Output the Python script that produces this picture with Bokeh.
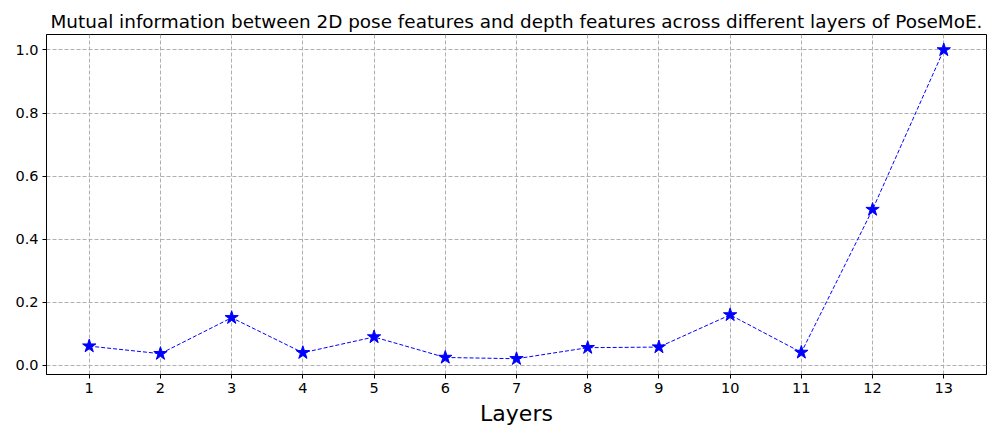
from bokeh.plotting import figure
from bokeh.models import FixedTicker, Range1d, PrintfTickFormatter
from bokeh.embed import file_html
from bokeh.resources import INLINE

layers = [1, 2, 3, 4, 5, 6, 7, 8, 9, 10, 11, 12, 13]
mutual_info = [0.061, 0.037, 0.151, 0.040, 0.090, 0.025, 0.021, 0.056, 0.058, 0.160, 0.041, 0.494, 1.0]
x_ticks = layers
y_ticks = [0.0, 0.2, 0.4, 0.6, 0.8, 1.0]
title_text = "Mutual information between 2D pose features and depth features across different layers of PoseMoE."
x_label = "Layers"

FONT = "DejaVu Sans"

p = figure(frame_width=940, frame_height=340, output_backend="svg", toolbar_location=None,
           x_range=Range1d(0.4, 13.6), y_range=Range1d(-0.029, 1.049),
           min_border_left=46, min_border_right=3, min_border_top=34, min_border_bottom=50)

p.title.text = title_text
p.title.text_font = FONT
p.title.text_font_size = "18.4px"
p.title.text_font_style = "normal"
p.title.text_color = "black"
p.title.align = "left"
p.title.standoff = 5
p.title.offset = 4

p.line(layers, mutual_info, line_color="blue", line_width=1, line_dash="4 2")
p.scatter(layers, mutual_info, marker="star", size=14, fill_color="blue", line_color="blue")

p.xaxis.ticker = FixedTicker(ticks=x_ticks)
p.yaxis.ticker = FixedTicker(ticks=y_ticks)
p.yaxis.formatter = PrintfTickFormatter(format="%.1f")
p.xaxis.axis_label = x_label
p.xaxis.axis_label_text_font = FONT
p.xaxis.axis_label_text_font_size = "22px"
p.xaxis.axis_label_text_font_style = "normal"
p.xaxis.axis_label_text_color = "black"
p.xaxis.axis_label_standoff = 5

for ax in (p.xaxis, p.yaxis):
    ax.major_label_text_font = FONT
    ax.major_label_text_font_size = "14.5px"
    ax.major_label_text_color = "black"
    ax.major_tick_out = 4
    ax.major_tick_in = 0
    ax.minor_tick_out = 0
    ax.minor_tick_in = 0
    ax.axis_line_color = "black"
    ax.major_tick_line_color = "black"
    ax.major_label_standoff = 4

p.outline_line_color = "black"
p.outline_line_width = 1
p.grid.grid_line_color = "#b0b0b0"
p.grid.grid_line_dash = "4 2"
p.grid.grid_line_width = 1

open("out.html", "w").write(file_html(p, INLINE))
